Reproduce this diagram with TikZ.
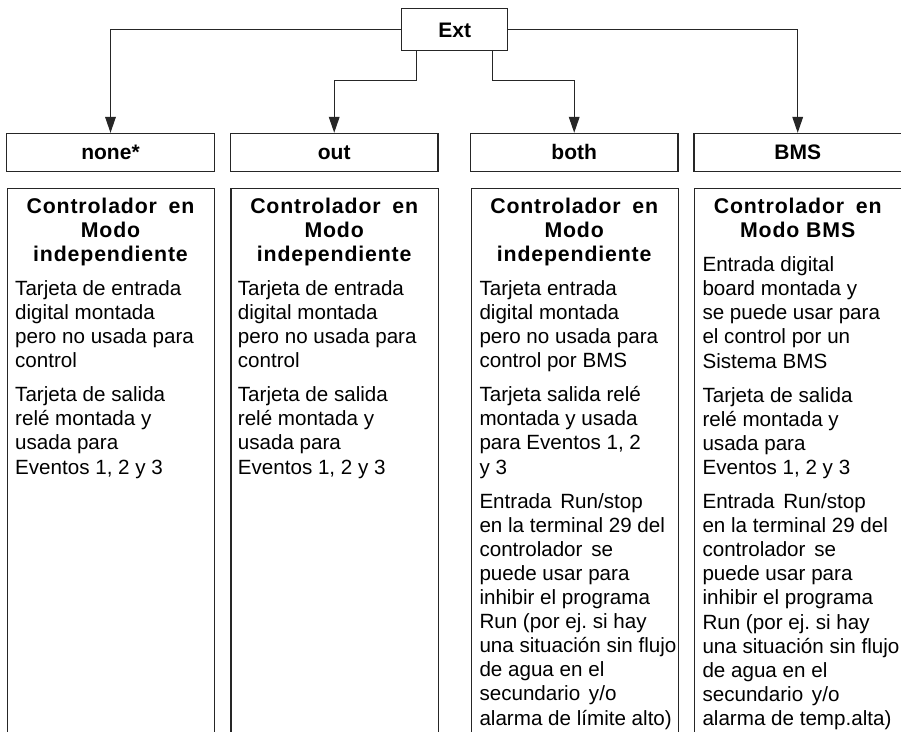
\documentclass[tikz,border=0pt]{standalone}
\usepackage{fontspec}
\setmainfont{Liberation Sans}
\newfontfamily\headfont{Liberation Sans}[LetterSpace=4]
\usetikzlibrary{arrows.meta}
\frenchspacing
\begin{document}
\begin{tikzpicture}[x=1pt,y=-1pt,
  boxline/.style={draw=black!85, line width=1.1pt},
  hdr/.style={boxline, minimum width=207.5pt, minimum height=37.7pt, inner sep=0pt,
    text height=15.2pt, text depth=0pt,
    font=\fontsize{21}{24}\selectfont\bfseries},
  colbox/.style={boxline, minimum width=207.5pt, minimum height=600pt, anchor=north west, inner sep=0pt},
  headtxt/.style={anchor=north, align=center, inner sep=0pt,
    font=\headfont\fontsize{21.3}{24.1}\selectfont\bfseries},
  bodytxt/.style={anchor=north west, align=left, inner sep=0pt,
    font=\fontsize{20.6}{24.1}\selectfont},
  arr/.style={draw=black!85, line width=1.1pt, -{Triangle[width=10.7pt,length=16pt]}}
]
\useasboundingbox (0,0) rectangle (901,731);
\clip (0,0) rectangle (901,731);
\fill[white] (0,0) rectangle (901,731);

% top box
\node[hdr, minimum width=106pt, minimum height=42.4pt] (ext) at (454.7,29.5) {Ext};

% option headers
\node[hdr] (h1) at (110.5,152.2) {none*};
\node[hdr] (h2) at (334.2,152.2) {out};
\node[hdr] (h3) at (574.2,152.2) {both};
\node[hdr] (h4) at (797.7,152.2) {BMS};

% connectors
\draw[arr] (ext.west) -| (h1.north);
\draw[arr] (ext.east) -| (h4.north);
\draw[arr] ([xshift=15pt]ext.south west) -- ++(0,29.3) -| (h2.north);
\draw[arr] ([xshift=-16pt]ext.south east) -- ++(0,29.3) -| (h3.north);

% content boxes (open at the bottom, running off the page)
\node[colbox] (c1) at (6.7,187.5) {};
\node[colbox] (c2) at (230.4,187.5) {};
\node[colbox] (c3) at (470.7,187.5) {};
\node[colbox] (c4) at (694,187.5) {};

% column 1
\node[headtxt] (c1h) at (110.5,196.2) {\strut Controlador\hspace{5pt} en\\Modo\\independiente};
\node[bodytxt] (c1b) at (15,278.3) {\strut Tarjeta de entrada\\digital montada\\pero no usada para\\control\\[10pt]
Tarjeta de salida\\relé montada y\\usada para\\Eventos 1, 2 y 3};

% column 2
\node[headtxt] (c2h) at (334.2,196.2) {\strut Controlador\hspace{5pt} en\\Modo\\independiente};
\node[bodytxt] (c2b) at (237.7,278.3) {\strut Tarjeta de entrada\\digital montada\\pero no usada para\\control\\[10pt]
Tarjeta de salida\\relé montada y\\usada para\\Eventos 1, 2 y 3};

% column 3
\node[headtxt] (c3h) at (574.2,196.2) {\strut Controlador\hspace{5pt} en\\Modo\\independiente};
\node[bodytxt] (c3b) at (479.3,278.3) {\strut Tarjeta entrada\\digital montada\\pero no usada para\\control por BMS\\[10pt]
Tarjeta salida relé\\montada y usada\\para Eventos 1, 2\\y 3\\[10pt]
Entrada\hspace{3pt} Run/stop\\en la terminal 29 del\\controlador\hspace{3pt} se\\puede usar para\\inhibir el programa\\Run (por ej. si hay\\una situación sin flujo\\de agua en el\\secundario\hspace{3pt} y/o\\alarma de límite alto)};

% column 4
\node[headtxt] (c4h) at (797.7,196.2) {\strut Controlador\hspace{5pt} en\\Modo BMS};
\node[bodytxt] (c4b) at (702.3,254.6) {\strut Entrada digital\\board montada y\\se puede usar para\\el control por un\\Sistema BMS\\[10pt]
Tarjeta de salida\\relé montada y\\usada para\\Eventos 1, 2 y 3\\[10pt]
Entrada\hspace{3pt} Run/stop\\en la terminal 29 del\\controlador\hspace{3pt} se\\puede usar para\\inhibir el programa\\Run (por ej. si hay\\una situación sin flujo\\de agua en el\\secundario\hspace{3pt} y/o\\alarma de temp.alta)};
\end{tikzpicture}
\end{document}
